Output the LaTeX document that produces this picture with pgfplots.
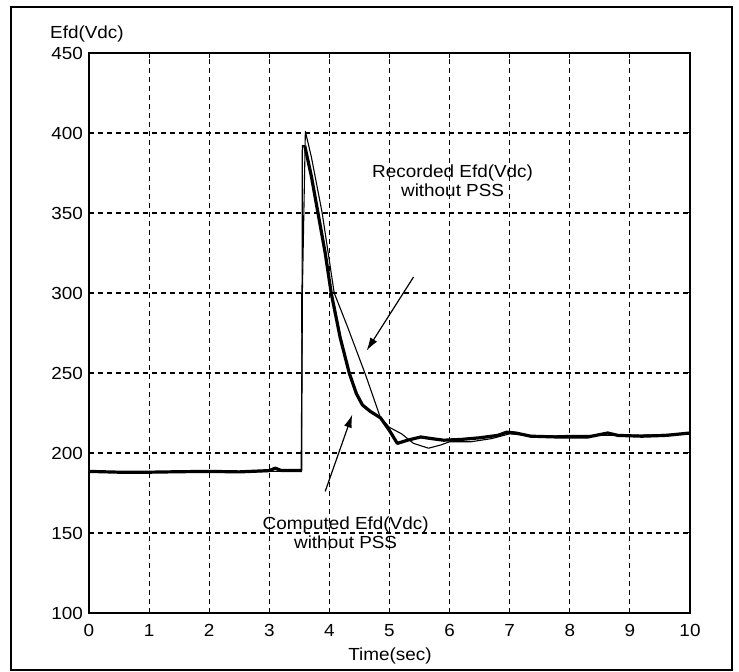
\documentclass[border=0pt]{standalone}
\usepackage{fontspec}
\setmainfont{Liberation Sans}[FakeStretch=1.08]
\usepackage{pgfplots}
\pgfplotsset{compat=1.18}
\usetikzlibrary{arrows.meta}
\begin{document}
\fontsize{17.5}{20}\selectfont
\begin{tikzpicture}
\useasboundingbox (0pt,0pt) rectangle (739pt,672pt);
\draw[line width=1.1pt] (11pt,2pt) rectangle (732pt,665pt);
\node[anchor=west, inner sep=0pt] at (50pt,638pt) {Efd(Vdc)};
\node[inner sep=0pt] at (390pt,16pt) {Time(sec)};
\begin{axis}[
  at={(89pt,59pt)}, anchor=south west,
  scale only axis, width=601pt, height=560pt,
  xmin=0, xmax=10, ymin=100, ymax=450,
  xtick={0,1,...,10}, ytick={100,150,...,450},
  grid=major,
  major grid style={black, line width=1.1pt, dash pattern=on 5pt off 4pt},
  axis line style={line width=1.4pt},
  tick style={black, line width=1pt},
  major tick length=5pt, tick align=inside,
  /pgf/number format/assume math mode=true,
  ticklabel style={font=\fontsize{17.5}{20}\selectfont},
  xticklabel style={yshift=-5pt},
  clip=false,
]
% Recorded (thin)
\addplot[black, line width=1.1pt, line join=round] coordinates {
(0,188.5) (0.5,188) (1,188.2) (1.5,188) (2,188.3) (2.5,188) (3,188.5) (3.53,188.5)
(3.55,300) (3.6,401) (3.7,385) (3.88,350) (4.08,300) (4.3,279) (4.6,249)
(4.85,222) (5.0,216) (5.2,212) (5.4,206) (5.65,203) (5.85,205)
(6.0,207) (6.35,207) (6.7,209) (7.0,212) (7.3,211) (7.6,210.5) (8.0,211)
(8.5,211) (9.0,211) (9.5,211.5) (10,212)
};
% Computed (thick): flat part, thin step, thick response
\addplot[black, line width=3.2pt, line join=round] coordinates {
(0,188.5) (0.5,188) (1,188) (1.5,188.3) (2,188.5) (2.5,188.2) (3.0,189) (3.1,190.5)
(3.2,189) (3.5,189) (3.54,189)
};
\addplot[black, line width=1.2pt] coordinates {(3.54,189) (3.55,392) (3.59,392)};
\addplot[black, line width=2.5pt] coordinates {(3.545,275) (3.545,300)};
\addplot[black, line width=3.2pt, line join=round] coordinates {
(3.59,392) (3.7,373) (3.81,350) (3.93,325) (4.03,300) (4.18,272)
(4.33,250) (4.45,237) (4.55,230) (4.68,226) (4.85,222) (5.0,214) (5.13,206)
(5.3,208) (5.52,210) (5.7,209) (5.9,208) (6.2,208.5) (6.5,209.5) (6.8,211)
(6.95,213) (7.1,212.5) (7.35,210.5) (7.8,210) (8.3,210) (8.63,212.5) (8.8,211)
(9.2,210.5) (9.6,211) (10,212.5)
};
% annotations
\node[align=center, inner sep=0pt] at (axis cs:6.05,370) {Recorded Efd(Vdc)\\[-1pt]without PSS};
\draw[line width=1.2pt, -{Latex[length=13pt,width=8pt]}] (axis cs:5.4,310) -- (axis cs:4.62,264);
\node[align=center, inner sep=0pt] at (axis cs:4.27,150) {Computed Efd(Vdc)\\[-1pt]without PSS};
\draw[line width=1.2pt, -{Latex[length=13pt,width=8pt]}] (axis cs:3.93,176) -- (axis cs:4.38,224);
\end{axis}
\end{tikzpicture}
\end{document}
